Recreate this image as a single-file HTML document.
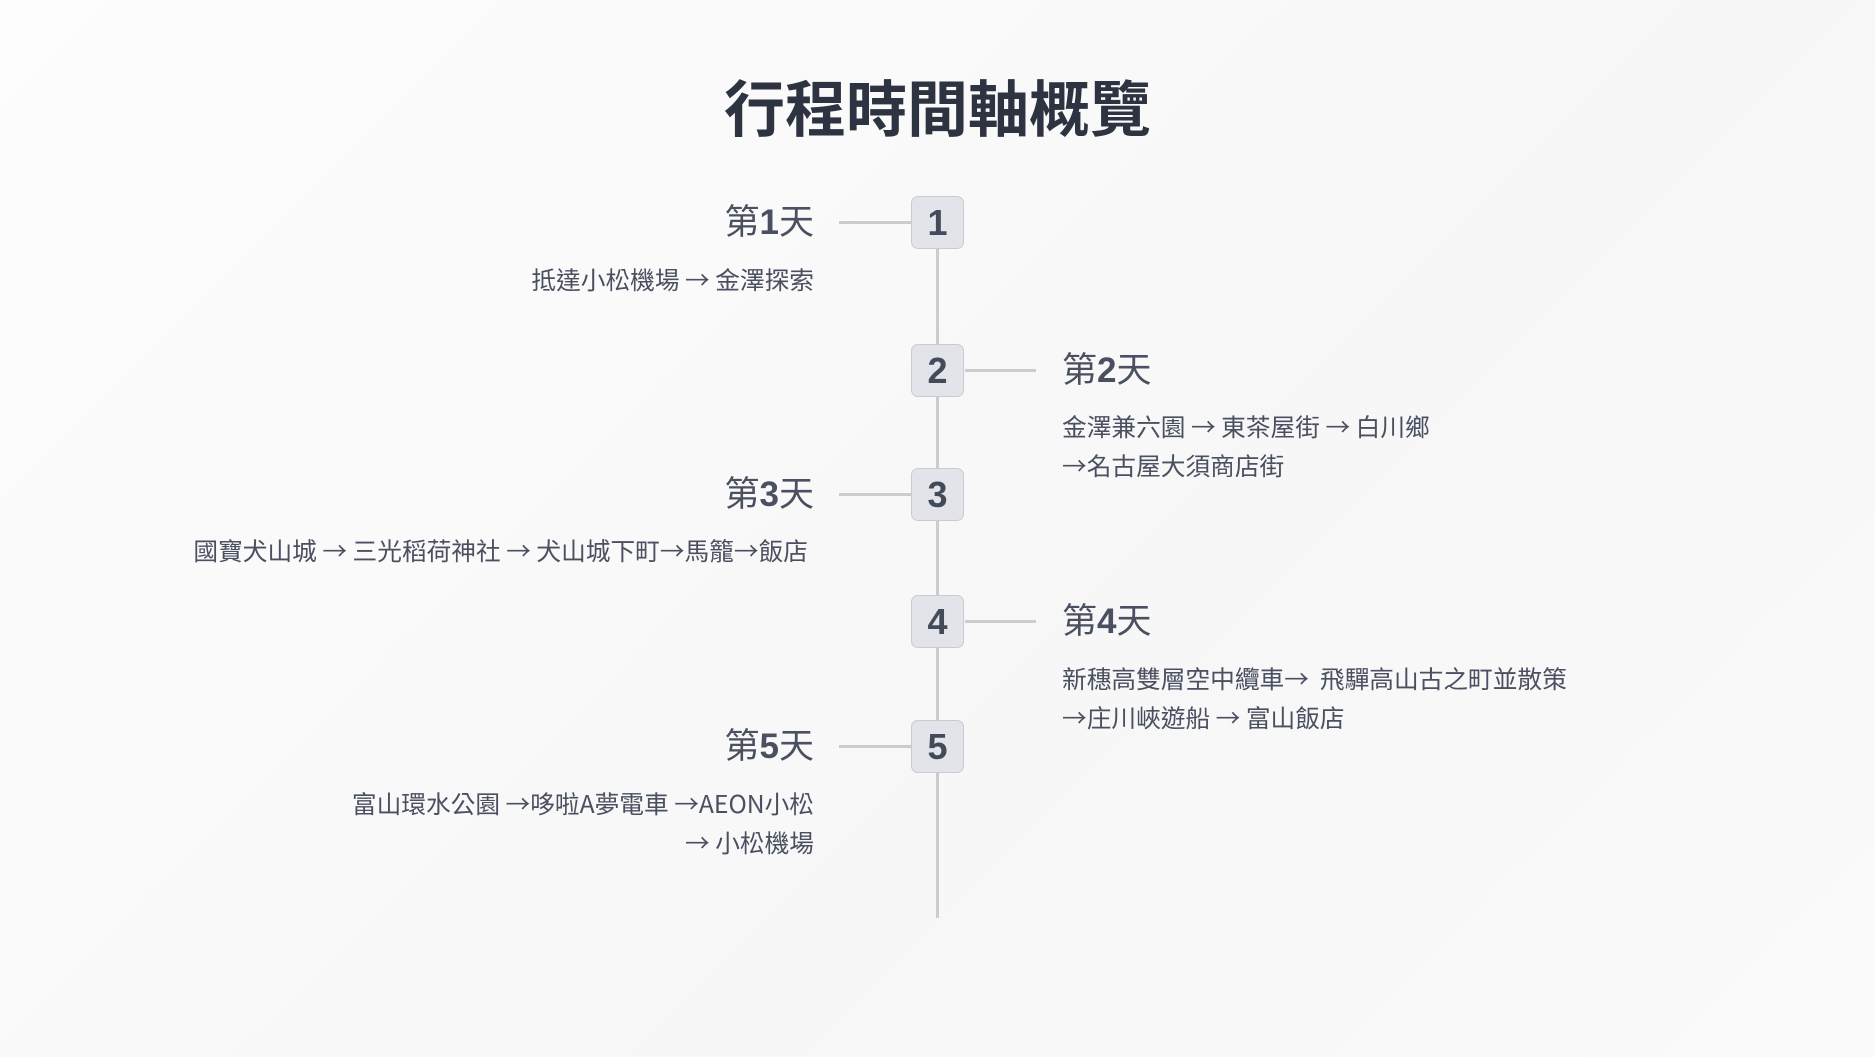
<!DOCTYPE html>
<html><head><meta charset="utf-8"><style>
html,body{margin:0;padding:0}
body{width:1875px;height:1057px;position:relative;overflow:hidden;background:linear-gradient(135deg,#fdfdfd 0%,#f7f7f8 60%,#fafafa 100%);font-family:"Liberation Sans","Noto Sans CJK TC",sans-serif;color:#4a5060}
.t{position:absolute;white-space:nowrap}
.title{left:0;width:1875px;text-align:center;top:68px;font-size:61px;font-weight:bold;color:#2d3340;line-height:84px}
.box{position:absolute;left:911px;width:51px;height:51px;background:#e3e4e9;border:1.5px solid #c9cbd1;border-radius:7px;box-sizing:content-box;text-align:center;line-height:51px;font-size:36px;font-weight:bold;color:#434a5a}
.h{position:absolute;height:3px;background:#cbccd0}
.day{font-size:35px;line-height:44px;color:#4a5060}
.day b{font-weight:bold}
.d{font-size:24.7px;line-height:39px;color:#4a5060;font-family:"Noto Sans CJK TC","Liberation Sans",sans-serif}
.r{text-align:right}
</style></head><body>
<div class="t title">行程時間軸概覽</div>
<div style="position:absolute;left:936px;top:240px;width:3px;height:678px;background:#cbccd0"></div>

<div class="h" style="left:839px;width:72px;top:221px"></div>
<div class="h" style="left:965px;width:71px;top:369px"></div>
<div class="h" style="left:839px;width:72px;top:493px"></div>
<div class="h" style="left:965px;width:71px;top:620px"></div>
<div class="h" style="left:839px;width:72px;top:745px"></div>

<div class="box" style="top:196px">1</div>
<div class="box" style="top:344px">2</div>
<div class="box" style="top:468px">3</div>
<div class="box" style="top:595px">4</div>
<div class="box" style="top:720px">5</div>

<div class="t day r" style="right:1061px;top:201px">第<b>1</b>天</div>
<div class="t d r" style="right:1061px;top:260px">抵達小松機場 → 金澤探索</div>

<div class="t day" style="left:1062px;top:349px">第<b>2</b>天</div>
<div class="t d" style="left:1062px;top:407px">金澤兼六園 → 東茶屋街 → 白川鄉<br>→名古屋大須商店街</div>

<div class="t day r" style="right:1061px;top:473px">第<b>3</b>天</div>
<div class="t d r" style="right:1067px;top:531px">國寶犬山城 → 三光稻荷神社 → 犬山城下町→馬籠→飯店</div>

<div class="t day" style="left:1062px;top:600px">第<b>4</b>天</div>
<div class="t d" style="left:1062px;top:659px">新穗高雙層空中纜車→&nbsp; 飛驒高山古之町並散策<br>→庄川峽遊船 → 富山飯店</div>

<div class="t day r" style="right:1061px;top:725px">第<b>5</b>天</div>
<div class="t d r" style="right:1061px;top:784px">富山環水公園 →哆啦A夢電車 →AEON小松<br>→ 小松機場</div>
</body></html>
